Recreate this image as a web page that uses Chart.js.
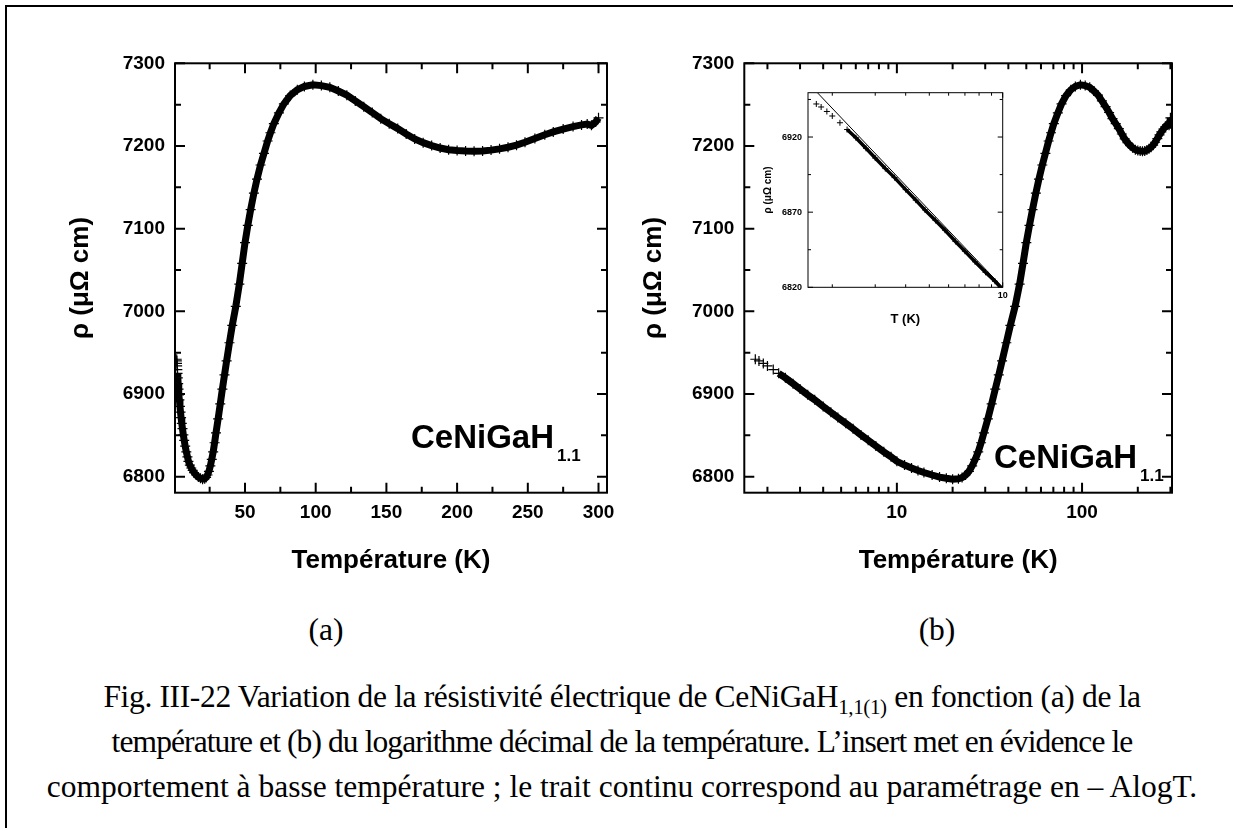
<!DOCTYPE html>
<html>
<head>
<meta charset="utf-8">
<script src="https://cdn.jsdelivr.net/npm/chart.js@4.4.1/dist/chart.umd.min.js"></script>
<style>
html, body { margin: 0; padding: 0; background: #fff; }
#page { position: relative; width: 1233px; height: 828px; overflow: hidden; background: #fff; }
#page canvas { position: absolute; }
.rule-top { position: absolute; left: 5px; top: 5px; width: 1228px; height: 2px; background: #000; }
.rule-left { position: absolute; left: 5px; top: 5px; width: 2px; height: 823px; background: #000; }
.cap { position: absolute; left: 0; width: 1244px; text-align: center; white-space: nowrap;
       font: 31.5px "Liberation Serif", "Times New Roman", serif; line-height: 32px; color: #000; }
.cap sub { font-size: 21px; vertical-align: -7px; line-height: 0; }
.tag { position: absolute; width: 100px; text-align: center;
       font: 31.5px "Liberation Serif", "Times New Roman", serif; line-height: 32px; }
</style>
</head>
<body>
<div id="page">
  <div class="rule-top"></div>
  <div class="rule-left"></div>
  <canvas id="linChart" width="625" height="600" style="left:0;top:0"></canvas>
  <canvas id="logChart" width="575" height="600" style="left:620px;top:0"></canvas>
  <canvas id="insetChart" width="275" height="260" style="left:740px;top:80px"></canvas>
  <div class="tag" style="left:276px;top:614px">(a)</div>
  <div class="tag" style="left:887px;top:614px">(b)</div>
  <div class="cap" style="top:681px;letter-spacing:-0.35px">Fig. III-22 Variation de la résistivité électrique de CeNiGaH<sub>1,1(1)</sub> en fonction (a) de la</div>
  <div class="cap" style="top:726px;letter-spacing:-0.9px">température et (b) du logarithme décimal de la température. L’insert met en évidence le</div>
  <div class="cap" style="top:771px">comportement à basse température ; le trait continu correspond au paramétrage en – AlogT.</div>
</div>
<script>
// resistivity of CeNiGaH1.1 vs temperature
const tempK = [
  1.72, 1.80, 1.90, 2.00, 2.15, 2.30, 2.50, 2.75, 3.00, 3.30, 3.60, 4.00, 4.40, 4.80,
  5.30, 5.80, 6.40, 7.00, 7.70, 8.50, 9.30, 10.0, 11.0, 12.0, 13.0, 14.0, 15.5, 17.0,
  18.5, 20.0, 21.5, 22.5, 23.5, 24.5, 25.5, 26.5, 27.5, 28.5, 29.5, 31.0, 32.5, 34.0,
  35.5, 37.0, 39.0, 41.0, 43.5, 46.0, 48.0, 50.0, 52.0, 54.0, 56.3, 58.5, 61.0, 63.4,
  66.0, 68.0, 70.4, 74.0, 77.5, 82.0, 87.0, 92.0, 98.0, 104, 110, 116, 122, 128,
  134, 140, 146, 152, 158, 164, 170, 176, 182, 188, 194, 200, 206, 212,
  218, 224, 230, 236, 242, 248, 255, 262, 268, 275, 282, 288, 292, 295, 298, 300
];
const rho = [
  6942, 6940, 6937, 6934, 6929.5, 6925, 6919.5, 6912.5, 6906, 6899, 6893, 6885, 6878, 6871.5,
  6864.5, 6858, 6850.5, 6844, 6837, 6830, 6824, 6818.5, 6814, 6810.5, 6807.5, 6805, 6802, 6799.5,
  6798, 6797, 6797.5, 6799, 6802, 6806.5, 6813, 6821, 6830, 6841, 6853, 6870, 6888, 6906,
  6923, 6940, 6962, 6983, 7006, 7033, 7058, 7083, 7104, 7123, 7143, 7160, 7177, 7191,
  7206, 7216, 7227, 7240, 7251, 7261, 7268, 7272, 7274, 7273, 7271, 7266.5, 7261.5, 7254.5,
  7247.5, 7240.5, 7233, 7227, 7221, 7214.5, 7208.5, 7204, 7200.5, 7197.5, 7195.5, 7194.5, 7193.8, 7193.6,
  7193.8, 7195, 7196.5, 7198.5, 7201, 7204.5, 7209, 7213.5, 7217, 7220.5, 7223.5, 7225.5, 7226.5, 7225, 7229, 7234
];
// -A log T fit, end points
const fitTempK = [1.74, 10];
const fitRho = [6949.4, 6820];

const rhoTicks = [6800, 6900, 7000, 7100, 7200, 7300];
const rhoMinor = [6850, 6950, 7050, 7150, 7250];
const linTicks = [50, 100, 150, 200, 250, 300];
const linMinor = [25, 75, 125, 175, 225, 275];
const logTicks = [10, 100];
const logMinor = [2, 3, 4, 5, 6, 7, 8, 9, 20, 30, 40, 50, 60, 70, 80, 90, 200, 300];
const insetRhoTicks = [6820, 6870, 6920];
const insetRhoMinor = [6845, 6895, 6945];
const insetTicks = [10];
const insetMinor = [2, 3, 4, 5, 6, 7, 8, 9];

const SANS = '"Liberation Sans", Arial, sans-serif';
Chart.defaults.font.family = SANS;
Chart.defaults.color = '#000';

const points = tempK.map((t, i) => ({ x: t, y: rho[i] }));
const fitPoints = fitTempK.map((t, i) => ({ x: t, y: fitRho[i] }));

// closed box with inward ticks on all four sides, plus the sample name
const framePlugin = {
  id: 'frame',
  afterDatasetsDraw(chart, args, o) {
    const { ctx, chartArea: a, scales } = chart;
    ctx.save();
    ctx.strokeStyle = '#000';
    ctx.lineWidth = o.lw;
    ctx.strokeRect(a.left, a.top, a.right - a.left, a.bottom - a.top);
    const marks = (scale, values, len) => {
      ctx.beginPath();
      values.forEach(v => {
        const p = scale.getPixelForValue(v);
        if (scale.isHorizontal()) {
          if (p < a.left || p > a.right) return;
          ctx.moveTo(p, a.bottom); ctx.lineTo(p, a.bottom - len);
          ctx.moveTo(p, a.top); ctx.lineTo(p, a.top + len);
        } else {
          if (p < a.top || p > a.bottom) return;
          ctx.moveTo(a.left, p); ctx.lineTo(a.left + len, p);
          ctx.moveTo(a.right, p); ctx.lineTo(a.right - len, p);
        }
      });
      ctx.stroke();
    };
    marks(scales.x, scales.x.ticks.map(t => t.value), o.major);
    marks(scales.x, o.xMinor, o.minor);
    marks(scales.y, scales.y.ticks.map(t => t.value), o.major);
    marks(scales.y, o.yMinor, o.minor);
    if (o.label) {
      const l = o.label;
      ctx.fillStyle = '#000';
      ctx.textBaseline = 'alphabetic';
      ctx.textAlign = 'left';
      ctx.font = 'bold ' + l.size + 'px ' + SANS;
      ctx.fillText(l.text, l.x, l.y);
      const w = ctx.measureText(l.text).width;
      ctx.font = 'bold ' + l.subSize + 'px ' + SANS;
      ctx.fillText(l.sub, l.x + w + 3, l.y + l.drop);
    }
    ctx.restore();
  }
};

function axis(type, min, max, ticks, size, tickFont, tickPad, title) {
  return {
    type, min, max,
    grid: { display: false, drawTicks: false },
    border: { display: false },
    afterBuildTicks: s => { s.ticks = ticks.map(v => ({ value: v })); },
    afterFit: s => { if (s.isHorizontal()) s.height = size; else s.width = size; },
    ticks: {
      autoSkip: false, maxRotation: 0, padding: tickPad, color: '#000',
      font: { size: tickFont, weight: 'bold' },
      callback: v => String(v)
    },
    title: {
      display: true, text: title.text, color: '#000',
      font: { size: title.size, weight: 'bold' },
      padding: title.padding
    }
  };
}

function dataset(pointRadius, lineWidth, crossWidth) {
  return {
    data: points,
    showLine: true,
    borderColor: '#000',
    borderWidth: lineWidth,
    pointStyle: 'cross',
    pointRadius,
    pointBorderWidth: crossWidth,
    pointBorderColor: '#000',
    pointBackgroundColor: '#000',
    clip: 0,
    segment: { borderColor: c => c.p0.parsed.x < 2.3 ? 'rgba(0,0,0,0)' : '#000' }
  };
}

function plot(id, datasets, pad, x, y, frame) {
  return new Chart(document.getElementById(id), {
    type: 'scatter',
    data: { datasets },
    options: {
      responsive: false,
      animation: false,
      events: [],
      layout: { padding: pad },
      plugins: { legend: { display: false }, tooltip: { enabled: false }, frame },
      scales: { x, y }
    },
    plugins: [framePlugin]
  });
}

const yTitle = (pt) => ({ text: 'ρ (μΩ cm)', size: 26, padding: { top: pt, bottom: 0 } });
const xTitle = { text: 'Température (K)', size: 26, padding: { top: 0, bottom: 24 } };

// (a) linear temperature axis
plot('linChart', [dataset(5, 7, 1.2)],
  { left: 0, top: 63.3, right: 18, bottom: 0 },
  axis('linear', 0.5, 306, linTicks, 107.3, 19, 8.4, xTitle),
  axis('linear', 6780.6, 7300, rhoTicks, 175, 19, 10, yTitle(65.4)),
  { lw: 2, major: 10, minor: 6, xMinor: linMinor, yMinor: rhoMinor,
    label: { text: 'CeNiGaH', sub: '1.1', x: 411, y: 448, size: 33, subSize: 17, drop: 13 } });

// (b) logarithmic temperature axis
plot('logChart', [dataset(5, 7, 1.2)],
  { left: 0, top: 63.3, right: 23, bottom: 0 },
  axis('logarithmic', 1.5, 306, logTicks, 107.3, 19, 8.4, xTitle),
  axis('linear', 6780.6, 7300, rhoTicks, 124.3, 19, 10, yTitle(18.4)),
  { lw: 2, major: 10, minor: 6, xMinor: logMinor, yMinor: rhoMinor,
    label: { text: 'CeNiGaH', sub: '1.1', x: 374, y: 468, size: 33, subSize: 17, drop: 13 } });

// insert: low temperature part with the -A log T line
plot('insetChart', [
    { data: fitPoints, showLine: true, borderColor: '#000', borderWidth: 1, pointRadius: 0, clip: 0, order: 0 },
    Object.assign(dataset(3, 3.5, 1), { order: 1 })
  ],
  { left: 0, top: 12.7, right: 12.3, bottom: 0 },
  axis('logarithmic', 1.59, 10, insetTicks, 52.7, 9, 3.3,
    { text: 'T (K)', size: 13, padding: { top: 0, bottom: 12.9 } }),
  axis('linear', 6820, 6949.5, insetRhoTicks, 68, 9, 6,
    { text: 'ρ (μΩ cm)', size: 10, padding: { top: 22, bottom: 0 } }),
  { lw: 1, major: 5, minor: 3, xMinor: insetMinor, yMinor: insetRhoMinor });
</script>
</body>
</html>
